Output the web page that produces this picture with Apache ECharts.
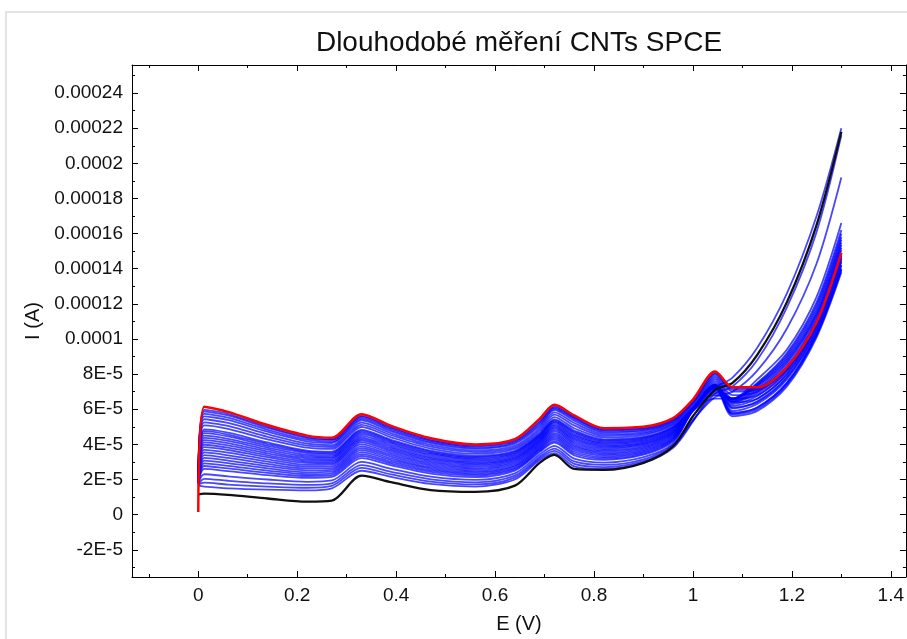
<!DOCTYPE html>
<html>
<head>
<meta charset="utf-8">
<script src="https://cdn.jsdelivr.net/npm/echarts@6/dist/echarts.min.js"></script>
<style>
html,body{margin:0;padding:0;background:#fff;}
#chart{width:907px;height:639px;}
</style>
</head>
<body>
<div id="chart"></div>
<script>
// ---- data (current values in units of 1E-5 A) ----
const titleText = 'Dlouhodobé měření CNTs SPCE';
const xName = 'E (V)';
const yName = 'I (A)';

// potential grid (V)
const E = [0, 0.012, 0.06, 0.14, 0.22, 0.27, 0.33, 0.39, 0.47, 0.56, 0.64, 0.69, 0.72, 0.76, 0.82, 0.9, 0.96, 1.0, 1.045, 1.08, 1.13, 1.19, 1.25, 1.3];

// first measurement (black)
const blackI = [1.15, 1.2, 1.13, 0.92, 0.74, 0.8, 2.22, 1.85, 1.4, 1.3, 1.65, 2.95, 3.4, 2.6, 2.55, 2.95, 3.9, 5.6, 7.1, 7.5, 9.1, 12.1, 16.5, 21.8];

// last measurement (red)
const redI = [0.15, 6.15, 5.85, 5.1, 4.5, 4.38, 5.72, 5.05, 4.35, 4.0, 4.3, 5.45, 6.25, 5.65, 4.92, 5.0, 5.5, 6.55, 8.15, 7.25, 7.25, 8.4, 10.95, 14.9];

// intermediate measurements (blue), oldest first
const blueCurves = [
  [1.65, 1.6, 1.5, 1.42, 1.38, 1.5, 2.5, 2.15, 1.75, 1.6, 2.0, 3.1, 3.5, 2.75, 2.6, 2.95, 3.8, 5.3, 7.2, 7.8, 9.5, 12.6, 17.0, 22.0],
  [1.7, 1.82, 1.71, 1.60, 1.53, 1.64, 2.66, 2.29, 1.88, 1.72, 2.11, 3.2, 3.63, 2.89, 2.71, 3.05, 3.88, 5.35, 6.9, 7.3, 8.8, 11.8, 16.1, 21.6],
  [1.7, 2.04, 1.93, 1.78, 1.69, 1.78, 2.82, 2.44, 2.01, 1.84, 2.22, 3.3, 3.76, 3.03, 2.83, 3.15, 3.97, 5.4, 6.7, 7.0, 8.2, 10.6, 14.3, 19.2],
  [1.75, 2.30, 2.18, 2.00, 1.87, 1.95, 3.00, 2.61, 2.16, 1.98, 2.35, 3.42, 3.92, 3.19, 2.96, 3.27, 4.06, 5.9, 6.6, 6.6, 7.7, 9.4, 12.4, 16.6],
  [1.75, 2.61, 2.48, 2.25, 2.09, 2.15, 3.22, 2.81, 2.34, 2.14, 2.51, 3.56, 4.10, 3.38, 3.12, 3.41, 4.18, 5.9, 6.8, 6.6, 7.5, 9.2, 12.1, 16.2],
  [1.78, 2.77, 2.63, 2.38, 2.20, 2.25, 3.34, 2.91, 2.43, 2.23, 2.59, 3.63, 4.19, 3.48, 3.20, 3.48, 4.24, 5.92, 6.9, 6.6, 7.45, 9.1, 11.95, 16.0],
  [1.8, 2.92, 2.78, 2.51, 2.30, 2.35, 3.45, 3.01, 2.52, 2.31, 2.66, 3.70, 4.28, 3.58, 3.28, 3.55, 4.30, 5.95, 7.0, 6.6, 7.4, 9.0, 11.8, 15.8],
  [1.8, 3.08, 2.93, 2.64, 2.41, 2.45, 3.56, 3.11, 2.61, 2.39, 2.74, 3.77, 4.37, 3.68, 3.36, 3.62, 4.36, 5.98, 7.1, 6.6, 7.35, 8.9, 11.65, 15.65],
  [1.8, 3.23, 3.08, 2.76, 2.52, 2.55, 3.67, 3.20, 2.69, 2.47, 2.81, 3.84, 4.46, 3.77, 3.44, 3.69, 4.41, 6.0, 7.2, 6.6, 7.3, 8.8, 11.5, 15.5],
  [1.82, 3.39, 3.23, 2.89, 2.63, 2.65, 3.78, 3.30, 2.78, 2.56, 2.89, 3.91, 4.55, 3.87, 3.52, 3.76, 4.47, 6.0, 7.25, 6.55, 7.2, 8.7, 11.4, 15.35],
  [1.85, 3.54, 3.38, 3.02, 2.73, 2.75, 3.89, 3.40, 2.87, 2.64, 2.97, 3.98, 4.64, 3.96, 3.60, 3.83, 4.53, 6.0, 7.3, 6.5, 7.1, 8.6, 11.3, 15.2],
  [1.85, 3.69, 3.53, 3.15, 2.84, 2.85, 4.00, 3.50, 2.96, 2.72, 3.05, 4.05, 4.74, 4.06, 3.68, 3.90, 4.59, 6.02, 7.35, 6.45, 7.0, 8.45, 11.15, 15.05],
  [1.85, 3.84, 3.68, 3.27, 2.95, 2.94, 4.11, 3.60, 3.05, 2.80, 3.12, 4.12, 4.83, 4.15, 3.76, 3.97, 4.64, 6.05, 7.4, 6.4, 6.9, 8.3, 11.0, 14.9],
  [1.88, 3.98, 3.81, 3.38, 3.04, 3.03, 4.21, 3.69, 3.13, 2.88, 3.19, 4.18, 4.91, 4.24, 3.83, 4.03, 4.69, 6.05, 7.4, 6.3, 6.75, 8.15, 10.85, 14.75],
  [1.9, 4.11, 3.94, 3.49, 3.13, 3.11, 4.30, 3.77, 3.20, 2.95, 3.25, 4.24, 4.98, 4.32, 3.90, 4.09, 4.74, 6.05, 7.4, 6.2, 6.6, 8.0, 10.7, 14.6],
  [1.9, 4.24, 4.07, 3.60, 3.22, 3.20, 4.39, 3.86, 3.28, 3.02, 3.32, 4.30, 5.06, 4.40, 3.97, 4.15, 4.79, 6.05, 7.35, 6.05, 6.45, 7.85, 10.55, 14.4],
  [1.9, 4.37, 4.20, 3.71, 3.31, 3.28, 4.48, 3.95, 3.36, 3.09, 3.39, 4.36, 5.14, 4.48, 4.04, 4.21, 4.84, 6.05, 7.3, 5.9, 6.3, 7.7, 10.4, 14.2],
  [1.92, 4.50, 4.32, 3.82, 3.40, 3.36, 4.58, 4.04, 3.44, 3.16, 3.46, 4.42, 5.22, 4.56, 4.10, 4.27, 4.89, 6.02, 7.25, 5.75, 6.1, 7.5, 10.25, 14.0],
  [1.95, 4.64, 4.45, 3.92, 3.50, 3.45, 4.67, 4.12, 3.51, 3.23, 3.52, 4.48, 5.29, 4.65, 4.17, 4.33, 4.94, 6.0, 7.2, 5.6, 5.9, 7.3, 10.1, 13.8],
  [1.95, 4.75, 4.56, 4.02, 3.58, 3.52, 4.75, 4.19, 3.58, 3.29, 3.58, 4.53, 5.36, 4.72, 4.23, 4.38, 4.98, 6.02, 7.28, 5.7, 6.0, 7.4, 10.2, 13.9],
  [1.95, 4.86, 4.67, 4.11, 3.65, 3.59, 4.83, 4.26, 3.64, 3.35, 3.63, 4.58, 5.42, 4.79, 4.29, 4.43, 5.02, 6.05, 7.35, 5.8, 6.1, 7.5, 10.3, 14.0],
  [2.0, 5.08, 4.88, 4.29, 3.81, 3.74, 4.99, 4.40, 3.76, 3.46, 3.74, 4.68, 5.55, 4.92, 4.40, 4.53, 5.10, 6.1, 7.5, 6.1, 6.4, 7.8, 10.5, 14.2],
  [2.0, 5.25, 5.05, 4.43, 3.93, 3.85, 5.11, 4.52, 3.87, 3.56, 3.83, 4.80, 5.70, 5.08, 4.49, 4.61, 5.17, 6.15, 7.6, 6.4, 6.6, 8.0, 10.7, 14.4],
  [2.05, 5.43, 5.22, 4.58, 4.05, 3.96, 5.24, 4.63, 3.97, 3.65, 3.93, 4.92, 5.82, 5.22, 4.58, 4.69, 5.24, 6.25, 7.7, 6.6, 6.8, 8.2, 10.8, 14.5],
  [2.05, 5.60, 5.39, 4.72, 4.17, 4.08, 5.37, 4.74, 4.07, 3.75, 4.04, 5.04, 5.95, 5.35, 4.67, 4.77, 5.30, 6.32, 7.8, 6.8, 7.0, 8.3, 10.9, 14.6],
  [2.1, 5.74, 5.52, 4.83, 4.27, 4.16, 5.46, 4.83, 4.15, 3.82, 4.12, 5.14, 6.03, 5.45, 4.74, 4.83, 5.35, 6.38, 7.9, 7.0, 7.1, 8.4, 11.0, 14.7],
  [2.1, 5.87, 5.65, 4.94, 4.36, 4.25, 5.56, 4.91, 4.22, 3.89, 4.18, 5.24, 6.10, 5.52, 4.81, 4.89, 5.40, 6.42, 8.0, 7.1, 7.2, 8.4, 11.0, 14.8],
  [2.15, 5.96, 5.74, 5.01, 4.42, 4.30, 5.62, 4.97, 4.27, 3.94, 4.24, 5.32, 6.16, 5.58, 4.86, 4.93, 5.43, 6.48, 8.05, 7.2, 7.25, 8.4, 10.95, 14.85]
];

// ticks
const xMajor = [0, 0.2, 0.4, 0.6, 0.8, 1, 1.2, 1.4];
const xMajorLabels = ['0', '0.2', '0.4', '0.6', '0.8', '1', '1.2', '1.4'];
const xMinor = [-0.1, 0.1, 0.3, 0.5, 0.7, 0.9, 1.1, 1.3];
const yMajor = [-2, 0, 2, 4, 6, 8, 10, 12, 14, 16, 18, 20, 22, 24];
const yMajorLabels = ['-2E-5', '0', '2E-5', '4E-5', '6E-5', '8E-5', '0.0001', '0.00012', '0.00014', '0.00016', '0.00018', '0.0002', '0.00022', '0.00024'];
const yMinor = [-3, -1, 1, 3, 5, 7, 9, 11, 13, 15, 17, 19, 21, 23, 25];

// ---- chart ----
const FONT = '"Liberation Sans", Arial, sans-serif';
const X_MIN = -0.134, X_MAX = 1.4305;
const Y_MIN = -3.55, Y_MAX = 25.6;
const SMOOTH = 0.3;

function lookup(vals, labels) {
  return function (v) {
    for (let i = 0; i < vals.length; i++) if (Math.abs(vals[i] - v) < 1e-6) return labels[i];
    return '';
  };
}

function xAx(pos, ticks, len, withLabels, withLine) {
  const a = {
    type: 'value', position: pos, min: X_MIN, max: X_MAX,
    axisLine: { show: withLine, onZero: false, lineStyle: { color: '#000', width: 1 } },
    axisTick: { show: true, inside: true, length: len, customValues: ticks, lineStyle: { color: '#000', width: 1 } },
    axisLabel: { show: withLabels },
    splitLine: { show: false }
  };
  if (withLabels) {
    a.axisLabel = { show: true, customValues: ticks, formatter: lookup(xMajor, xMajorLabels),
      fontSize: 19, color: '#111', margin: 9, fontFamily: FONT };
    a.name = xName; a.nameLocation = 'middle'; a.nameGap = 37;
    a.nameTextStyle = { fontSize: 20, color: '#111', fontFamily: FONT };
  }
  return a;
}
function yAx(pos, ticks, len, withLabels, withLine) {
  const a = {
    type: 'value', position: pos, min: Y_MIN, max: Y_MAX,
    axisLine: { show: withLine, onZero: false, lineStyle: { color: '#000', width: 1 } },
    axisTick: { show: true, inside: true, length: len, customValues: ticks, lineStyle: { color: '#000', width: 1 } },
    axisLabel: { show: withLabels },
    splitLine: { show: false }
  };
  if (withLabels) {
    a.axisLabel = { show: true, customValues: ticks, formatter: lookup(yMajor, yMajorLabels),
      fontSize: 19, color: '#111', margin: 9, fontFamily: FONT };
    a.name = yName; a.nameLocation = 'middle'; a.nameGap = 86;
    a.nameTextStyle = { fontSize: 20, color: '#111', fontFamily: FONT };
  }
  return a;
}

function toPts(vals) { return E.map((e, i) => [e, vals[i]]); }

const series = [];
blueCurves.forEach((c, k) => {
  series.push({
    type: 'line', name: 'blue' + k, data: toPts(c), xAxisIndex: 0, yAxisIndex: 0,
    showSymbol: false, symbol: 'none', smooth: SMOOTH,
    lineStyle: { color: 'rgba(0,0,255,0.72)', width: 1.8 }, silent: true, z: 2
  });
});
series.push({
  type: 'line', name: 'black', data: toPts(blackI), xAxisIndex: 0, yAxisIndex: 0,
  showSymbol: false, symbol: 'none', smooth: SMOOTH,
  lineStyle: { color: '#111', width: 2.3 }, silent: true, z: 3
});
series.push({
  type: 'line', name: 'red', data: toPts(redI), xAxisIndex: 0, yAxisIndex: 0,
  showSymbol: false, symbol: 'none', smooth: SMOOTH,
  lineStyle: { color: '#ff0000', width: 2.5 }, silent: true, z: 4
});

const chart = echarts.init(document.getElementById('chart'), null, { renderer: 'canvas' });
chart.setOption({
  animation: false,
  backgroundColor: '#fff',
  title: {
    text: titleText, left: 514, top: 24, textAlign: 'center',
    textStyle: { fontSize: 28, fontWeight: 'normal', color: '#111', fontFamily: FONT }
  },
  graphic: [{
    type: 'rect', shape: { x: 6, y: 12, width: 1000, height: 1000 },
    style: { fill: 'none', stroke: '#e4e4e4', lineWidth: 2 }, silent: true, z: -10
  }],
  grid: { left: 132, top: 65, width: 775, height: 522, containLabel: false },
  xAxis: [
    xAx('bottom', xMajor, 6, true, true),
    xAx('bottom', xMinor, 3, false, false),
    xAx('top', xMajor, 6, false, true),
    xAx('top', xMinor, 3, false, false)
  ],
  yAxis: [
    yAx('left', yMajor, 6, true, true),
    yAx('left', yMinor, 3, false, false),
    yAx('right', yMajor, 6, false, true),
    yAx('right', yMinor, 3, false, false)
  ],
  series: series
});
</script>
</body>
</html>
